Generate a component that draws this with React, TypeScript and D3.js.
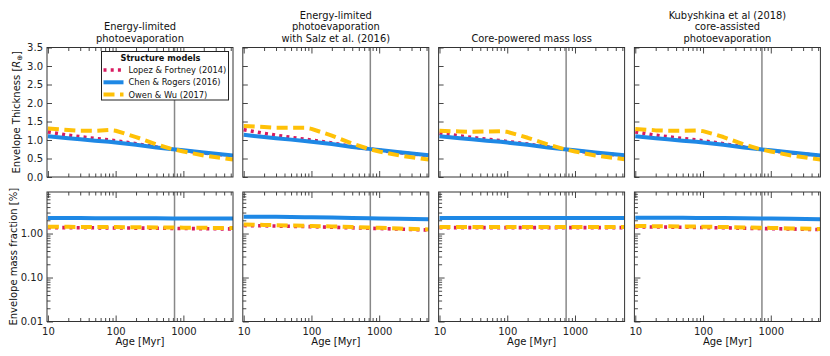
import { useEffect, useRef } from "react";
import * as d3 from "d3";

// ages in Myr
const ages = [10, 20, 30, 50, 80, 100, 200, 400, 700, 1000, 2000, 5400];

const panelTitles = [
  ["Energy-limited", "photoevaporation"],
  ["Energy-limited", "photoevaporation", "with Salz et al. (2016)"],
  ["Core-powered mass loss"],
  ["Kubyshkina et al (2018)", "core-assisted", "photoevaporation"],
];

const models = ["Lopez & Fortney (2014)", "Chen & Rogers (2016)", "Owen & Wu (2017)"];
const modelColors = ["#D81B60", "#1E88E5", "#FFC107"];

// envelope thickness [R_earth], per panel
const thickLopez = [
  [1.22, 1.13, 1.09, 1.04, 1.0, 0.98, 0.9, 0.81, 0.75, 0.71, 0.65, 0.57],
  [1.28, 1.18, 1.13, 1.07, 1.02, 1.0, 0.92, 0.82, 0.76, 0.72, 0.66, 0.58],
  [1.18, 1.11, 1.07, 1.02, 0.98, 0.96, 0.89, 0.81, 0.75, 0.71, 0.65, 0.58],
  [1.22, 1.13, 1.09, 1.04, 1.0, 0.98, 0.9, 0.81, 0.75, 0.71, 0.65, 0.58],
];
const thickChen = [
  [1.1, 1.05, 1.02, 0.98, 0.95, 0.93, 0.87, 0.8, 0.75, 0.72, 0.66, 0.58],
  [1.14, 1.08, 1.05, 1.01, 0.97, 0.95, 0.89, 0.81, 0.76, 0.73, 0.67, 0.59],
  [1.1, 1.05, 1.02, 0.98, 0.95, 0.93, 0.87, 0.8, 0.75, 0.72, 0.66, 0.59],
  [1.1, 1.05, 1.02, 0.98, 0.95, 0.93, 0.87, 0.8, 0.75, 0.72, 0.66, 0.58],
];
const thickOwen = [
  [1.31, 1.27, 1.25, 1.25, 1.27, 1.25, 1.08, 0.88, 0.75, 0.69, 0.58, 0.47],
  [1.38, 1.35, 1.33, 1.33, 1.33, 1.3, 1.12, 0.9, 0.76, 0.69, 0.58, 0.47],
  [1.25, 1.23, 1.22, 1.23, 1.24, 1.22, 1.06, 0.88, 0.75, 0.69, 0.58, 0.48],
  [1.3, 1.26, 1.25, 1.25, 1.26, 1.24, 1.08, 0.88, 0.75, 0.69, 0.58, 0.47],
];

// envelope mass fraction [%], per panel
const fracLopez = [
  [1.36, 1.36, 1.35, 1.35, 1.34, 1.34, 1.33, 1.32, 1.31, 1.3, 1.29, 1.27],
  [1.52, 1.5, 1.48, 1.46, 1.44, 1.43, 1.39, 1.35, 1.32, 1.3, 1.26, 1.2],
  [1.36, 1.36, 1.36, 1.36, 1.36, 1.36, 1.36, 1.36, 1.36, 1.36, 1.36, 1.36],
  [1.42, 1.41, 1.4, 1.39, 1.38, 1.37, 1.35, 1.32, 1.3, 1.29, 1.27, 1.23],
];
const fracChen = [
  [2.25, 2.25, 2.25, 2.24, 2.24, 2.24, 2.23, 2.22, 2.21, 2.21, 2.2, 2.19],
  [2.42, 2.41, 2.4, 2.38, 2.36, 2.35, 2.31, 2.26, 2.22, 2.2, 2.16, 2.1],
  [2.25, 2.25, 2.25, 2.25, 2.25, 2.25, 2.25, 2.25, 2.25, 2.25, 2.25, 2.25],
  [2.3, 2.3, 2.29, 2.28, 2.27, 2.27, 2.25, 2.22, 2.2, 2.19, 2.16, 2.12],
];
const fracOwen = [
  [1.42, 1.42, 1.41, 1.41, 1.4, 1.4, 1.39, 1.38, 1.37, 1.36, 1.35, 1.33],
  [1.6, 1.57, 1.55, 1.52, 1.5, 1.49, 1.45, 1.4, 1.37, 1.35, 1.3, 1.24],
  [1.41, 1.41, 1.41, 1.41, 1.41, 1.41, 1.41, 1.41, 1.41, 1.41, 1.41, 1.41],
  [1.48, 1.47, 1.46, 1.45, 1.44, 1.43, 1.41, 1.38, 1.36, 1.34, 1.31, 1.27],
];

const markerAge = 740;
const thickTicks = [0, 0.5, 1, 1.5, 2, 2.5, 3, 3.5];

const FONT = "DejaVu Sans, sans-serif";

export default function App() {
  const ref = useRef<SVGSVGElement | null>(null);

  useEffect(() => {
    if (!ref.current) return;
    const svg = d3.select(ref.current);
    svg.selectAll("*").remove();

    const left0 = 47, step = 195.8, pw = 186;
    const topY = 47.5, botY = 192, ph = 129.5;

    const x = d3.scaleLog().domain([9.7, 5400]).range([0, pw]);
    const yThick = d3.scaleLinear().domain([0, 3.5]).range([ph, 0]);
    const yFrac = d3.scaleLog().domain([0.01, 8.8]).range([ph, 0]);

    const styles = [
      { width: 3.6, dash: "3 4.2" },
      { width: 4, dash: null },
      { width: 4, dash: "11 5.5" },
    ];

    const styleAxis = (g: any) => {
      g.select(".domain").remove();
      g.selectAll("line").attr("stroke", "#333").attr("stroke-width", 0.9);
      g.selectAll("text").attr("font-family", FONT).attr("font-size", 10).attr("fill", "#222");
    };

    const isMajor = (d: number) => Math.abs(Math.log10(d) - Math.round(Math.log10(d))) < 1e-9;

    const drawPanel = (i: number, row: number) => {
      const px = left0 + i * step;
      const py = row === 0 ? topY : botY;
      const y: any = row === 0 ? yThick : yFrac;
      const g = svg.append("g").attr("transform", `translate(${px},${py})`);

      const clipId = `clip-${i}-${row}`;
      g.append("clipPath").attr("id", clipId).append("rect").attr("width", pw).attr("height", ph);

      const xt = x.ticks();
      // bottom x ticks (inward)
      const bx = g.append("g").attr("transform", `translate(0,${ph})`)
        .call(
          d3.axisBottom(x).tickValues(xt).tickSizeInner(0).tickSizeOuter(0)
            .tickPadding(6)
            .tickFormat((d: any) => (row === 1 && isMajor(d) ? String(d) : "") as any)
        );
      styleAxis(bx);
      bx.selectAll("line").attr("y2", (d: any) => (isMajor(d) ? -6 : -3.5));
      // top x ticks (inward)
      const tx = g.append("g").call(d3.axisTop(x).tickValues(xt).tickSizeInner(0).tickSizeOuter(0).tickFormat(() => ""));
      styleAxis(tx);
      tx.selectAll("line").attr("y2", (d: any) => (isMajor(d) ? 6 : 3.5));

      // left y ticks (inward)
      let ya: any;
      if (row === 0) {
        ya = d3.axisLeft(yThick).tickValues(thickTicks).tickSizeInner(0).tickSizeOuter(0).tickPadding(4)
          .tickFormat((d: any) => (i === 0 ? d3.format(".1f")(d) : "") as any);
      } else {
        ya = d3.axisLeft(yFrac).tickValues(yFrac.ticks()).tickSizeInner(0).tickSizeOuter(0).tickPadding(4)
          .tickFormat((d: any) => (i === 0 && isMajor(d) ? d3.format(".2f")(d) : "") as any);
      }
      const ly = g.append("g").call(ya);
      styleAxis(ly);
      if (row === 0) ly.selectAll("line").attr("x2", 5);
      else ly.selectAll("line").attr("x2", (d: any) => (isMajor(d) ? 6 : 3.5));

      // vertical marker
      g.append("line")
        .attr("x1", x(markerAge)).attr("x2", x(markerAge))
        .attr("y1", 0).attr("y2", ph)
        .attr("stroke", "#888").attr("stroke-width", 1.5);

      const sets = row === 0 ? [thickLopez, thickChen, thickOwen] : [fracLopez, fracChen, fracOwen];
      const lines = g.append("g").attr("clip-path", `url(#${clipId})`);
      sets.forEach((set, m) => {
        const vals = set[i];
        const line = d3.line<number>()
          .x((_, k) => x(ages[k]))
          .y((v) => y(v));
        const p = lines.append("path")
          .attr("d", line(vals))
          .attr("fill", "none")
          .attr("stroke", modelColors[m])
          .attr("stroke-width", styles[m].width)
          .attr("stroke-linejoin", "round");
        if (styles[m].dash) p.attr("stroke-dasharray", styles[m].dash);
      });

      // frame
      g.append("rect").attr("width", pw).attr("height", ph)
        .attr("fill", "none").attr("stroke", "#333").attr("stroke-width", 1);

      if (row === 0) {
        const tl = panelTitles[i];
        const n = tl.length;
        tl.forEach((t, k) => {
          svg.append("text")
            .attr("x", px + pw / 2)
            .attr("y", topY - 6 - (n - 1 - k) * 11.4)
            .attr("text-anchor", "middle")
            .attr("font-family", FONT).attr("font-size", 9.9).attr("fill", "#111")
            .text(t);
        });
      } else {
        svg.append("text")
          .attr("x", px + pw / 2).attr("y", botY + ph + 23)
          .attr("text-anchor", "middle")
          .attr("font-family", FONT).attr("font-size", 10).attr("fill", "#111")
          .text("Age [Myr]");
      }
    };

    for (let i = 0; i < 4; i++) {
      drawPanel(i, 0);
      drawPanel(i, 1);
    }

    // y labels
    const yl1 = svg.append("text")
      .attr("transform", `translate(20,${topY + ph / 2}) rotate(-90)`)
      .attr("text-anchor", "middle")
      .attr("font-family", FONT).attr("font-size", 10).attr("fill", "#111");
    yl1.append("tspan").text("Envelope Thickness [");
    yl1.append("tspan").attr("font-style", "italic").text("R");
    yl1.append("tspan").attr("font-size", 7).attr("dy", 2).text("⊕");
    yl1.append("tspan").attr("dy", -2).text("]");

    svg.append("text")
      .attr("transform", `translate(17,${botY + ph / 2}) rotate(-90)`)
      .attr("text-anchor", "middle")
      .attr("font-family", FONT).attr("font-size", 10).attr("fill", "#111")
      .text("Envelope mass fraction [%]");

    // legend
    const lg = svg.append("g").attr("transform", "translate(101.5,51.5)");
    lg.append("rect").attr("width", 127).attr("height", 48.5)
      .attr("fill", "white").attr("stroke", "#222").attr("stroke-width", 1);
    lg.append("text").attr("x", 59).attr("y", 9.8).attr("text-anchor", "middle")
      .attr("font-family", FONT).attr("font-size", 8.2).attr("font-weight", "bold").attr("fill", "#111")
      .text("Structure models");
    models.forEach((name, m) => {
      const cy = 18.5 + m * 12.3;
      const l = lg.append("line").attr("x1", 2).attr("x2", 22).attr("y1", cy).attr("y2", cy)
        .attr("stroke", modelColors[m]).attr("stroke-width", styles[m].width);
      if (styles[m].dash) l.attr("stroke-dasharray", styles[m].dash);
      lg.append("text").attr("x", 27).attr("y", cy + 3)
        .attr("font-family", FONT).attr("font-size", 8.3).attr("fill", "#111")
        .text(name);
    });
  }, []);

  return (
    <svg
      ref={ref}
      width={830}
      height={356}
      style={{ position: "absolute", left: 0, top: 0, background: "white" }}
    />
  );
}
